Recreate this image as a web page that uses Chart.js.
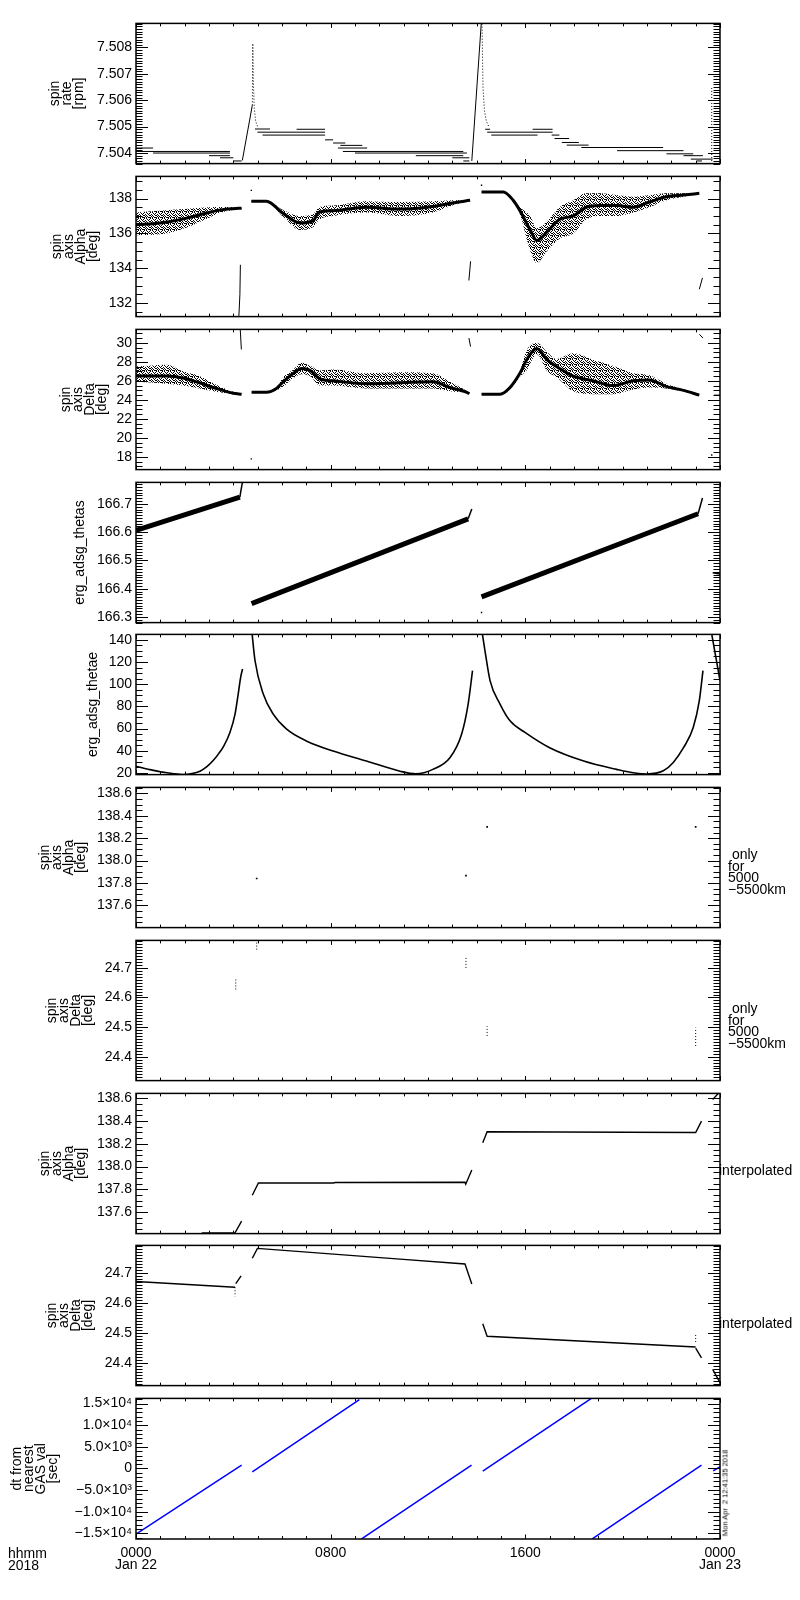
<!DOCTYPE html>
<html>
<head>
<meta charset="utf-8">
<script src="https://cdn.jsdelivr.net/npm/chart.js@4.4.1/dist/chart.umd.min.js"></script>
<style>
  body { margin: 0; background: #fff; }
  #page { position: relative; width: 800px; height: 1600px; font-family: 'Liberation Sans', Arial, sans-serif; color: #000; }
  #page canvas { position: absolute; left: 0; }
  .note { position: absolute; font-size: 14px; line-height: 11.5px; white-space: pre; }
  .one { line-height: 14px; }
  .stamp { position: absolute; font-size: 7.5px; white-space: pre; transform: translate(-50%, -50%) rotate(-90deg); }
</style>
</head>
<body>
<div id="page">
  <div class="note" style="left:728px; top:849px;"> only
for
5000
−5500km</div>
  <div class="note" style="left:728px; top:1003px;"> only
for
5000
−5500km</div>
  <div class="note one" style="left:719px; top:1163px;">interpolated</div>
  <div class="note one" style="left:719px; top:1316px;">interpolated</div>
  <div class="note" style="left:8px; top:1547px; line-height:12px;">hhmm
2018</div>
  <div class="stamp" style="left:725px; top:1493px;">Mon Apr  2 12:41:35 2018</div>
</div>
<script>
// time axis (hours after 2018-01-22 00:00)
const timeTickHours = [0, 8, 16, 24];
const timeTickLabels = [['0000', 'Jan 22'], '0800', '1600', ['0000', 'Jan 23']];

// panel 1: spin rate [rpm] -- quantised levels
const rateLevelFrom = [0, 0, 0.7, 3.0, 3.45, 4.0, 4.89, 4.99, 5.2, 6.6, 7.77, 8.1, 8.4, 8.3, 8.5, 9.0, 11.5, 13.0, 13.45, 14.35, 14.43, 14.6, 16.3, 17.08, 17.2, 17.5, 17.7, 18.3, 19.77, 21.8, 22.5, 22.8, 23.05];
const rateLevelTo = [0.7, 3.86, 3.86, 3.86, 4.0, 4.34, 5.51, 7.77, 7.77, 7.77, 8.1, 8.6, 9.3, 9.5, 13.45, 13.6, 13.45, 13.7, 13.7, 14.55, 17.12, 16.5, 17.12, 17.4, 17.8, 18.2, 18.6, 21.66, 22.5, 22.9, 23.3, 23.7, 23.26];
const rateLevelValue = [7.50419, 7.50406, 7.5040, 7.5039, 7.50382, 7.5037, 7.50491, 7.50479, 7.50468, 7.5049, 7.5045, 7.50438, 7.50429, 7.50419, 7.50406, 7.5040, 7.5039, 7.50382, 7.5037, 7.5049, 7.50479, 7.50468, 7.5049, 7.50468, 7.50455, 7.5044, 7.5043, 7.50421, 7.50409, 7.50397, 7.5039, 7.50377, 7.5037];
const rateRiseHours = [4.37, 4.78, null, 13.8, 14.21];
const rateRiseValues = [7.50372, 7.50581, null, 7.5037, 7.5092];
const rateSpikeHours = [4.78, 4.80, 4.82, 4.86, 4.92, 5.0, null, 14.22, 14.26, 14.32, 14.4, 14.5, null, 23.66, 23.66];
const rateSpikeValues = [7.50581, 7.50815, 7.5068, 7.5057, 7.5052, 7.5050, null, 7.5089, 7.5065, 7.5056, 7.5052, 7.5050, null, 7.5037, 7.5065];
const rateTicks = [7.504, 7.505, 7.506, 7.507, 7.508];
const rateTickLabels = ['7.504', '7.505', '7.506', '7.507', '7.508'];

// panel 2: spin axis alpha [deg]
const alphaHours = [0, 1, 2, 3, 3.5, 4.0, 4.34, null, 4.74, 5.36, 6.05, 6.74, 7.3, 7.5, 8.1, 9.47, 10.85, 12.2, 13.0, 13.73, null, 14.2, 15.1, 15.5, 15.78, 16.2, 16.47, 16.9, 17.4, 17.97, 18.5, 19.07, 19.75, 20.44, 21.1, 21.8, 22.5, 23.15];
const alphaUpper = [137.2, 137.3, 137.4, 137.5, 137.52, 137.5, 137.48, null, 137.9, 137.88, 137.35, 137.0, 137.14, 137.5, 137.6, 137.85, 137.8, 137.85, 137.9, 137.92, null, 138.4, 138.4, 137.95, 137.5, 137.0, 136.3, 136.7, 137.5, 137.9, 138.3, 138.3, 138.2, 138.1, 138.2, 138.3, 138.3, 138.32];
const alphaLower = [135.9, 135.95, 136.3, 136.9, 137.2, 137.35, 137.42, null, 137.8, 137.82, 136.95, 136.2, 136.38, 136.76, 137.0, 137.2, 137.0, 137.2, 137.6, 137.88, null, 138.35, 138.35, 137.85, 137.1, 135.0, 134.3, 135.0, 135.7, 136.0, 136.8, 137.0, 137.0, 137.2, 137.5, 137.9, 138.1, 138.28];
const alphaCore = [136.5, 136.6, 136.85, 137.2, 137.35, 137.42, 137.45, null, 137.85, 137.85, 137.14, 136.6, 136.75, 137.2, 137.3, 137.5, 137.4, 137.55, 137.75, 137.9, null, 138.38, 138.38, 137.9, 137.3, 136.2, 135.6, 136.1, 136.8, 137.0, 137.5, 137.6, 137.6, 137.5, 137.8, 138.1, 138.2, 138.3];
const alphaJumpHours = [4.22, 4.27, 4.29, null, 13.68, 13.75, null, 23.15, 23.28];
const alphaJumpValues = [131.0, 132.5, 134.2, null, 133.3, 134.4, null, 132.8, 133.45];
const alphaDotHours = [4.74, 14.2];
const alphaDotValues = [138.47, 138.76];
const alphaTicks = [132, 134, 136, 138];
const alphaTickLabels = ['132', '134', '136', '138'];

// panel 3: spin axis delta [deg]
const deltaHours = [0, 1.25, 1.93, 2.6, 3.3, 4.0, 4.34, null, 4.75, 5.36, 5.77, 6.05, 6.47, 6.8, 7.15, 7.56, 8.1, 9.47, 10.85, 12.2, 12.9, 13.6, 13.7, null, 14.2, 14.96, 15.37, 15.8, 16.05, 16.47, 16.9, 17.28, 17.97, 18.8, 19.6, 20.44, 21.1, 21.8, 22.5, 23.15];
const deltaUpper = [27.5, 27.7, 27.0, 26.5, 25.6, 24.85, 24.65, null, 24.9, 24.9, 25.3, 26.4, 27.2, 27.9, 27.6, 27.1, 27.2, 26.8, 26.9, 26.8, 25.9, 24.9, 24.7, null, 24.65, 24.7, 25.4, 27.2, 29.2, 30.0, 29.0, 28.3, 28.9, 28.2, 27.6, 26.8, 26.6, 25.7, 25.1, 24.6];
const deltaLower = [25.9, 25.7, 25.5, 25.2, 24.85, 24.6, 24.55, null, 24.75, 24.75, 25.0, 25.4, 26.3, 26.7, 26.5, 25.5, 25.5, 25.2, 25.2, 25.2, 24.9, 24.7, 24.6, null, 24.55, 24.55, 25.1, 26.5, 27.1, 28.8, 27.0, 26.4, 24.9, 24.6, 24.6, 25.1, 25.3, 25.2, 24.9, 24.45];
const deltaCore = [26.5, 26.5, 26.3, 25.8, 25.2, 24.7, 24.6, null, 24.8, 24.8, 25.2, 25.9, 26.8, 27.3, 27.1, 26.2, 26.0, 25.7, 25.8, 25.9, 25.3, 24.8, 24.65, null, 24.6, 24.6, 25.3, 26.9, 28.2, 29.4, 28.2, 27.5, 26.5, 26.0, 25.5, 26.0, 26.1, 25.4, 25.0, 24.5];
const deltaJumpHours = [4.28, 4.33, null, 13.68, 13.75, null, 23.15, 23.3, null, 23.75, 24];
const deltaJumpValues = [31.6, 29.3, null, 30.5, 29.6, null, 30.9, 30.5, null, 24.5, 24.5];
const deltaDotHours = [4.74, 23.66];
const deltaDotValues = [17.8, 18.2];
const deltaTicks = [18, 20, 22, 24, 26, 28, 30];
const deltaTickLabels = ['18', '20', '22', '24', '26', '28', '30'];

// panel 4: erg_adsg_thetas
const thetasHours = [0, 4.27, null, 4.75, 13.65, null, 14.2, 23.1];
const thetasValues = [166.606, 166.7235, null, 166.347, 166.647, null, 166.371, 166.665];
const thetasTipHours = [4.27, 4.30, 4.38, null, 13.65, 13.8, null, 23.1, 23.28, null, 23.7, 24];
const thetasTipValues = [166.7235, 166.741, 166.78, null, 166.647, 166.682, null, 166.665, 166.721, null, 166.456, 166.452];
const thetasDotHours = [14.2];
const thetasDotValues = [166.316];
const thetasTicks = [166.3, 166.4, 166.5, 166.6, 166.7];
const thetasTickLabels = ['166.3', '166.4', '166.5', '166.6', '166.7'];

// panel 5: erg_adsg_thetae
const thetaeHours = [0, 0.5, 1.0, 1.5, 1.93, 2.3, 2.63, 2.9, 3.18, 3.4, 3.6, 3.86, 4.07, 4.2, 4.3, 4.38, null,
  4.75, 4.89, 5.23, 5.64, 6.19, 7.0, 8.1, 9.47, 10.85, 11.5, 12.2, 12.9, 13.38, 13.65, 13.83, null,
  14.2, 14.34, 14.55, 14.96, 15.37, 16.0, 17.0, 18.4, 19.75, 20.5, 21.0, 21.67, 22.08, 22.5, 22.9, 23.15, 23.3, null,
  23.66, 24];
const thetaeValues = [26.2, 23.5, 21.1, 19.6, 18.7, 19.5, 21.7, 25.5, 31.5, 37.5, 44.0, 56.4, 73.0, 91.1, 106.2, 113.7, null,
  150, 121.3, 91.1, 73.0, 59.5, 48.9, 39.8, 30.8, 21.7, 19.3, 23.3, 33.7, 54.9, 82.1, 112.2, null,
  150, 130.3, 103.2, 82.1, 67.0, 56.4, 42.8, 30.8, 23.3, 20.0, 19.2, 22.0, 29.5, 42.8, 60.9, 85.1, 112.2, null,
  145, 103.2];
const thetaeTicks = [20, 40, 60, 80, 100, 120, 140];
const thetaeTickLabels = ['20', '40', '60', '80', '100', '120', '140'];

// panel 6: spin axis alpha, only for 5000-5500 km
const alphaOnlyHours = [4.96, 13.56, 14.43, 23.0];
const alphaOnlyValues = [137.84, 137.865, 138.30, 138.30];
const alphaFineTicks = [137.6, 137.8, 138.0, 138.2, 138.4, 138.6];
const alphaFineTickLabels = ['137.6', '137.8', '138.0', '138.2', '138.4', '138.6'];

// panel 7: spin axis delta, only for 5000-5500 km
const deltaOnlyHours = [4.1, 4.1, null, 4.96, 4.96, null, 13.56, 13.56, null, 14.43, 14.43, null, 23.0, 23.0];
const deltaOnlyValues = [24.627, 24.663, null, 24.762, 24.79, null, 24.70, 24.739, null, 24.47, 24.503, null, 24.436, 24.498];
const deltaFineTicks = [24.4, 24.5, 24.6, 24.7];
const deltaFineTickLabels = ['24.4', '24.5', '24.6', '24.7'];

// panel 8: spin axis alpha, interpolated
const alphaInterpHours = [2.7, 4.07, 4.34, null, 4.78, 5.03, 8.1, 8.2, 13.52, 13.55, 13.8, null, 14.25, 14.43, 23.0, 23.24, null, 23.7, 24.0];
const alphaInterpValues = [137.416, 137.416, 137.52, null, 137.748, 137.856, 137.856, 137.86, 137.862, 137.845, 137.97, null, 138.209, 138.306, 138.30, 138.40, null, 138.59, 138.66];

// panel 9: spin axis delta, interpolated
const deltaInterpHours = [0, 4.07, null, 4.1, 4.32, null, 4.78, 4.99, 10.85, 13.52, 13.8, null, 14.25, 14.43, 23.0, null, 23.0, 23.24, null, 23.7, 24];
const deltaInterpValues = [24.672, 24.653, null, 24.665, 24.691, null, 24.75, 24.783, 24.747, 24.731, 24.664, null, 24.531, 24.489, 24.453, null, 24.449, 24.417, null, 24.378, 24.334];
const deltaInterpMarkHours = [4.07, 4.07, null, 23.0, 23.0];
const deltaInterpMarkValues = [24.653, 24.622, null, 24.47, 24.50];

// panel 10: dt from nearest GAS val [sec]
const dtHours = [0, 4.34, null, 4.78, 9.18, null, 9.27, 13.79, null, 14.25, 18.7, null, 18.75, 23.24, null, 23.72, 24];
const dtValues = [-15184, 783, null, -760, 15920, null, -16270, 783, null, -598, 16150, null, -16270, 783, null, -527, 394];
const dtTicks = [-15000, -10000, -5000, 0, 5000, 10000, 15000];
const dtTickLabels = ['−1.5×10⁴', '−1.0×10⁴', '−5.0×10³', '0', '5.0×10³', '1.0×10⁴', '1.5×10⁴'];

const FONT = "'Liberation Sans', Arial, sans-serif";
const panelTop = [23, 176, 329, 482, 634, 787, 940, 1093, 1245, 1398];
const PANEL_H = 141, PAD = 12, PLOT_LEFT = 136, PLOT_RIGHT = 720;

// speckle fill for the scattered-point bands
function speckle() {
  const c = document.createElement('canvas');
  c.width = 6; c.height = 6;
  const g = c.getContext('2d');
  g.fillStyle = '#000';
  [[0,0],[2,0],[3,1],[5,1],[1,2],[4,2],[0,3],[2,3],[5,3],[1,4],[3,4],[4,5],[0,5],[2,5],[5,5]]
    .forEach(p => g.fillRect(p[0], p[1], 1, 1));
  return g.createPattern(c, 'repeat');
}
const SPECKLE = speckle();

function pts(hours, values) {
  let last = 0;
  return hours.map((h, i) => {
    if (h !== null) last = h;
    return { x: last, y: values[i] };
  });
}
function line(hours, values, opt) {
  return Object.assign({ data: pts(hours, values), showLine: true, pointRadius: 0, borderColor: '#000',
    backgroundColor: '#000', borderWidth: 1, fill: false, spanGaps: false }, opt || {});
}
function dots(hours, values, r) {
  return { data: pts(hours, values), showLine: false, pointRadius: r || 1.3, pointStyle: 'rect',
    backgroundColor: '#000', borderWidth: 0 };
}
function levels(from, to, vals) {
  const h = [], v = [];
  from.forEach((f, i) => { h.push(f, to[i], null); v.push(vals[i], vals[i], null); });
  return [h, v];
}
function band(hours, upper, lower, core) {
  const smooth = { cubicInterpolationMode: 'monotone' };
  return [
    line(hours, upper, Object.assign({ fill: '+1', borderWidth: 0, backgroundColor: SPECKLE }, smooth)),
    line(hours, lower, Object.assign({ borderWidth: 0 }, smooth)),
    line(hours, core, Object.assign({ borderWidth: 3 }, smooth))
  ];
}

function frame(cfg) {
  return {
    id: 'idlFrame',
    afterDatasetsDraw(chart) {
      const { ctx, chartArea: a } = chart;
      const y = chart.scales.y, x = chart.scales.x;
      ctx.save();
      ctx.strokeStyle = '#000';
      ctx.lineWidth = 1;
      ctx.beginPath();
      const k0 = Math.ceil(cfg.yMin / cfg.yMinor - 1e-6), k1 = Math.floor(cfg.yMax / cfg.yMinor + 1e-6);
      for (let k = k0; k <= k1; k++) {
        const v = k * cfg.yMinor;
        const major = cfg.yTicks.some(m => Math.abs(m - v) < cfg.yMinor / 10);
        const len = major ? 12 : 6.5;
        const py = Math.round(y.getPixelForValue(v)) + 0.5;
        ctx.moveTo(a.left, py); ctx.lineTo(a.left + len, py);
        ctx.moveTo(a.right, py); ctx.lineTo(a.right - len, py);
      }
      for (let hh = 0; hh <= 24; hh++) {
        const len = hh % 8 === 0 ? 4.5 : 3;
        const px = Math.round(x.getPixelForValue(hh)) + 0.5;
        ctx.moveTo(px, a.bottom); ctx.lineTo(px, a.bottom - len);
        ctx.moveTo(px, a.top); ctx.lineTo(px, a.top + len);
      }
      ctx.stroke();
      ctx.lineWidth = 1.5;
      ctx.strokeRect(a.left, a.top, a.right - a.left, a.bottom - a.top);
      ctx.restore();
    }
  };
}

function makePanel(idx, cfg) {
  const last = idx === 9;
  const h = PAD + PANEL_H + (last ? 40 : PAD);
  const canvas = document.createElement('canvas');
  canvas.width = 800; canvas.height = h;
  canvas.style.top = (panelTop[idx] - PAD) + 'px';
  canvas.style.width = '800px'; canvas.style.height = h + 'px';
  const page = document.getElementById('page');
  page.insertBefore(canvas, page.firstChild);
  new Chart(canvas, {
    type: 'scatter',
    data: { datasets: cfg.datasets },
    options: {
      responsive: false,
      animation: false,
      events: [],
      layout: { padding: { left: cfg.titleLeft, right: 800 - PLOT_RIGHT, top: PAD, bottom: last ? 0 : PAD } },
      plugins: { legend: { display: false }, tooltip: { enabled: false } },
      scales: {
        x: {
          type: 'linear', min: 0, max: 24, display: last,
          grid: { display: false, drawTicks: false }, border: { display: false },
          afterBuildTicks: s => { s.ticks = timeTickHours.map(v => ({ value: v })); },
          afterFit: s => { s.height = last ? 40 : 0; },
          ticks: { callback: (v, i) => timeTickLabels[i], padding: 8, maxRotation: 0, autoSkip: false,
            color: '#000', font: { family: FONT, size: 14, lineHeight: '12px' } }
        },
        y: {
          type: 'linear', min: cfg.yMin, max: cfg.yMax,
          grid: { display: false, drawTicks: false }, border: { display: false },
          afterBuildTicks: s => { s.ticks = cfg.yTicks.map(v => ({ value: v })); },
          afterFit: s => { s.width = PLOT_LEFT - cfg.titleLeft; },
          ticks: { callback: (v, i) => cfg.yLabels[i], padding: 4, color: '#000', font: { family: FONT, size: 14 } },
          title: { display: true, text: cfg.title, padding: 0, color: '#000', font: { family: FONT, size: 14, lineHeight: '12px' } }
        }
      }
    },
    plugins: [frame(cfg)]
  });
}

const rateLv = levels(rateLevelFrom, rateLevelTo, rateLevelValue);

makePanel(0, {
  title: ['spin', 'rate', '[rpm]'], titleLeft: 49,
  yMin: 7.5036, yMax: 7.50891, yTicks: rateTicks, yLabels: rateTickLabels, yMinor: 0.0001,
  datasets: [
    line(rateLv[0], rateLv[1]),
    line(rateRiseHours, rateRiseValues),
    line(rateSpikeHours, rateSpikeValues, { borderDash: [1, 2] })
  ]
});
makePanel(1, {
  title: ['spin', 'axis', 'Alpha', '[deg]'], titleLeft: 51.5,
  yMin: 131.23, yMax: 139.27, yTicks: alphaTicks, yLabels: alphaTickLabels, yMinor: 0.5,
  datasets: band(alphaHours, alphaUpper, alphaLower, alphaCore).concat([
    line(alphaJumpHours, alphaJumpValues),
    dots(alphaDotHours, alphaDotValues, 1)
  ])
});
makePanel(2, {
  title: ['spin', 'axis', 'Delta', '[deg]'], titleLeft: 60,
  yMin: 16.67, yMax: 31.41, yTicks: deltaTicks, yLabels: deltaTickLabels, yMinor: 0.5,
  datasets: band(deltaHours, deltaUpper, deltaLower, deltaCore).concat([
    line(deltaJumpHours, deltaJumpValues),
    dots(deltaDotHours, deltaDotValues, 1)
  ])
});
makePanel(3, {
  title: 'erg_adsg_thetas', titleLeft: 74,
  yMin: 166.28, yMax: 166.776, yTicks: thetasTicks, yLabels: thetasTickLabels, yMinor: 0.01,
  datasets: [
    line(thetasHours, thetasValues, { borderWidth: 5 }),
    line(thetasTipHours, thetasTipValues, { borderWidth: 1.5 }),
    dots(thetasDotHours, thetasDotValues, 1)
  ]
});
makePanel(4, {
  title: 'erg_adsg_thetae', titleLeft: 87,
  yMin: 18.6, yMax: 144.8, yTicks: thetaeTicks, yLabels: thetaeTickLabels, yMinor: 5,
  datasets: [line(thetaeHours, thetaeValues, { borderWidth: 1.6, cubicInterpolationMode: 'monotone' })]
});
makePanel(5, {
  title: ['spin', 'axis', 'Alpha', '[deg]'], titleLeft: 39,
  yMin: 137.402, yMax: 138.653, yTicks: alphaFineTicks, yLabels: alphaFineTickLabels, yMinor: 0.05,
  datasets: [dots(alphaOnlyHours, alphaOnlyValues, 1.2)]
});
makePanel(6, {
  title: ['spin', 'axis', 'Delta', '[deg]'], titleLeft: 46,
  yMin: 24.319, yMax: 24.793, yTicks: deltaFineTicks, yLabels: deltaFineTickLabels, yMinor: 0.01,
  datasets: [line(deltaOnlyHours, deltaOnlyValues, { borderDash: [1, 2] })]
});
makePanel(7, {
  title: ['spin', 'axis', 'Alpha', '[deg]'], titleLeft: 39,
  yMin: 137.41, yMax: 138.644, yTicks: alphaFineTicks, yLabels: alphaFineTickLabels, yMinor: 0.05,
  datasets: [line(alphaInterpHours, alphaInterpValues, { borderWidth: 1.4 })]
});
makePanel(8, {
  title: ['spin', 'axis', 'Delta', '[deg]'], titleLeft: 46,
  yMin: 24.324, yMax: 24.793, yTicks: deltaFineTicks, yLabels: deltaFineTickLabels, yMinor: 0.01,
  datasets: [
    line(deltaInterpHours, deltaInterpValues, { borderWidth: 1.4 }),
    line(deltaInterpMarkHours, deltaInterpMarkValues, { borderDash: [1, 2] })
  ]
});
makePanel(9, {
  title: ['dt from', 'nearest', 'GAS val', '[sec]'], titleLeft: 11,
  yMin: -16300, yMax: 16200, yTicks: dtTicks, yLabels: dtTickLabels, yMinor: 1000,
  datasets: [line(dtHours, dtValues, { borderColor: '#0000ff', borderWidth: 1.5 })]
});
</script>
</body>
</html>
